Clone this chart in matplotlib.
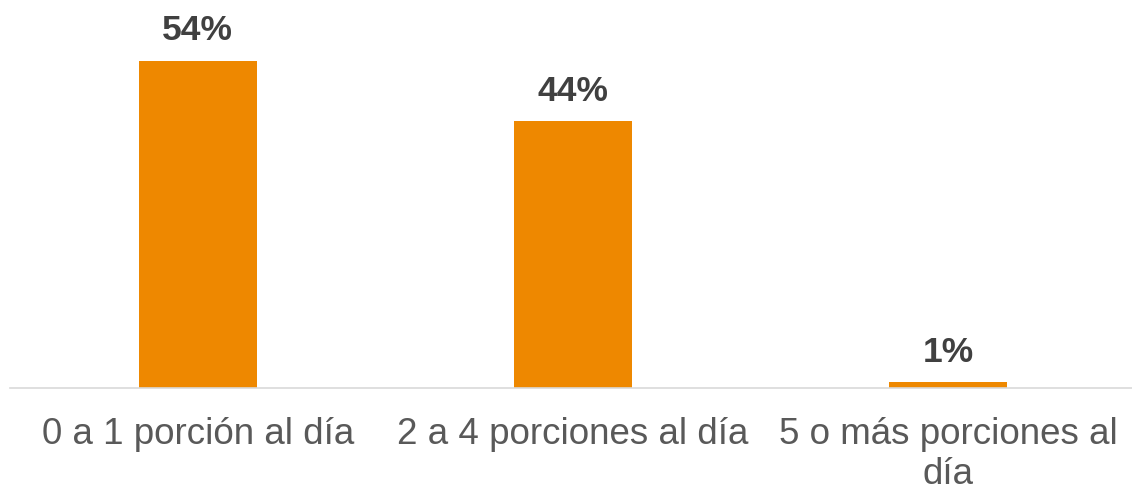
import matplotlib
matplotlib.use("Agg")
import matplotlib.pyplot as plt

# porciones diarias
categorias = ["0 a 1 porción al día", "2 a 4 porciones al día", "5 o más porciones al\ndía"]
porcentajes = [54, 44, 1]

plt.rcParams['font.family'] = ['Liberation Sans', 'DejaVu Sans']

fig = plt.figure(figsize=(11.32, 4.9), dpi=100)
ax = fig.add_axes([10 / 1132, 1 - 388 / 490, 1126 / 1132, 388 / 490])

x = range(len(categorias))
barras = ax.bar(x, porcentajes, width=0.314, color='#ee8800')

for b, v in zip(barras, porcentajes):
    ax.annotate(f"{v}%", (b.get_x() + b.get_width() / 2, v),
                xytext=(0, 9.5), textcoords='offset points',
                ha='center', va='bottom', fontsize=25.5, fontweight='bold',
                color='#404040')

ax.set_xlim(-0.5, 2.5)
ax.set_ylim(0, 64)
ax.set_xticks(list(x))
ax.set_xticklabels(categorias, fontsize=26.5, color='#595959', linespacing=1.18)
ax.tick_params(axis='x', length=0, pad=21)
ax.set_yticks([])

for lado in ['top', 'right', 'left']:
    ax.spines[lado].set_visible(False)
ax.spines['bottom'].set_color('#d9d9d9')
ax.spines['bottom'].set_linewidth(1.2)

fig.savefig('out.png', dpi=100)
